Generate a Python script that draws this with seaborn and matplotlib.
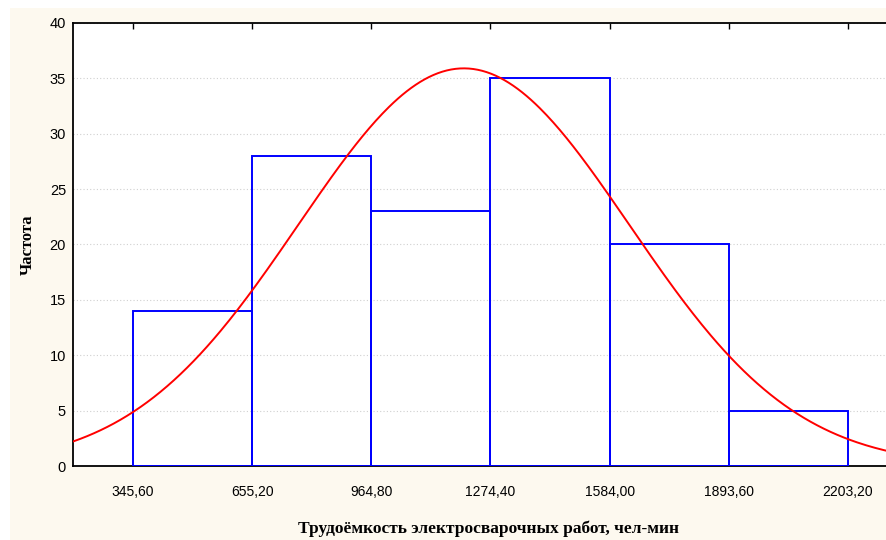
import numpy as np
import pandas as pd
import matplotlib
matplotlib.use('Agg')
import matplotlib.pyplot as plt
import seaborn as sns
from matplotlib.patches import Rectangle

# histogram bin edges (chel-min) and counts
bin_edges = [345.6, 655.2, 964.8, 1274.4, 1584.0, 1893.6, 2203.2]
counts = [14, 28, 23, 35, 20, 5]
tick_labels = ['345,60', '655,20', '964,80', '1274,40', '1584,00', '1893,60', '2203,20']
y_ticks = [0, 5, 10, 15, 20, 25, 30, 35, 40]

# fitted normal curve parameters
fit_mean = 1205.0
fit_std = 430.0

centers = [(a + b) / 2 for a, b in zip(bin_edges[:-1], bin_edges[1:])]
df = pd.DataFrame({'x': centers, 'n': counts})

n_total = sum(counts)
width = bin_edges[1] - bin_edges[0]
xs = np.linspace(100, 2400, 400)
curve = pd.DataFrame({
    'x': xs,
    'y': n_total * width / (fit_std * np.sqrt(2 * np.pi)) * np.exp(-0.5 * ((xs - fit_mean) / fit_std) ** 2),
})

sns.set_style('white')
plt.rcParams['font.family'] = ['Liberation Sans', 'DejaVu Sans']
plt.rcParams['text.color'] = 'black'
plt.rcParams['xtick.color'] = 'black'
plt.rcParams['ytick.color'] = 'black'
plt.rcParams['axes.labelcolor'] = 'black'

fig = plt.figure(figsize=(8.87, 5.40), dpi=100, facecolor='white')
fig.patches.append(Rectangle((10 / 887, 0.0), 1.0, 1 - 8 / 540, transform=fig.transFigure,
                             facecolor='#fdf9ef', edgecolor='none', zorder=-10))

left_px, right_px, top_px, bottom_px = 73, 905, 23, 466
ax = fig.add_axes([left_px / 887, 1 - bottom_px / 540,
                   (right_px - left_px) / 887, (bottom_px - top_px) / 540])
ax.set_facecolor('white')

sns.histplot(data=df, x='x', weights='n', bins=bin_edges, fill=False,
             color='#0000ff', linewidth=1.4, ax=ax, zorder=3)
sns.lineplot(data=curve, x='x', y='y', color='#ff0000', linewidth=1.4, ax=ax, zorder=4)

units_per_px = (bin_edges[-1] - bin_edges[0]) / (848 - 133)
ax.set_xlim(bin_edges[0] - (133 - left_px) * units_per_px,
            bin_edges[-1] + (right_px - 848) * units_per_px)
ax.set_ylim(0, 40)

ax.set_xticks(bin_edges)
ax.set_xticklabels(tick_labels, fontsize=10)
ax.set_yticks(y_ticks)
ax.set_yticklabels([str(v) for v in y_ticks], fontsize=10.5)
ax.tick_params(axis='both', direction='in', length=4, width=1, top=True)
ax.tick_params(axis='x', pad=14)
ax.tick_params(axis='y', pad=5)

ax.grid(axis='y', linestyle=(0, (1, 2)), color='#d0d0d0', linewidth=0.8)
ax.set_axisbelow(True)

for side in ['left', 'bottom', 'top']:
    ax.spines[side].set_color('black')
    ax.spines[side].set_linewidth(1.3)
ax.spines['right'].set_visible(False)

ax.set_xlabel('Трудоёмкость электросварочных работ, чел-мин', fontsize=12.5,
              fontweight='bold', family=['Liberation Serif', 'DejaVu Serif'], labelpad=15)
ax.set_ylabel('Частота', fontsize=12, fontweight='bold',
              family=['Liberation Serif', 'DejaVu Serif'], labelpad=10)

fig.savefig('out.png', dpi=100, facecolor=fig.get_facecolor())
